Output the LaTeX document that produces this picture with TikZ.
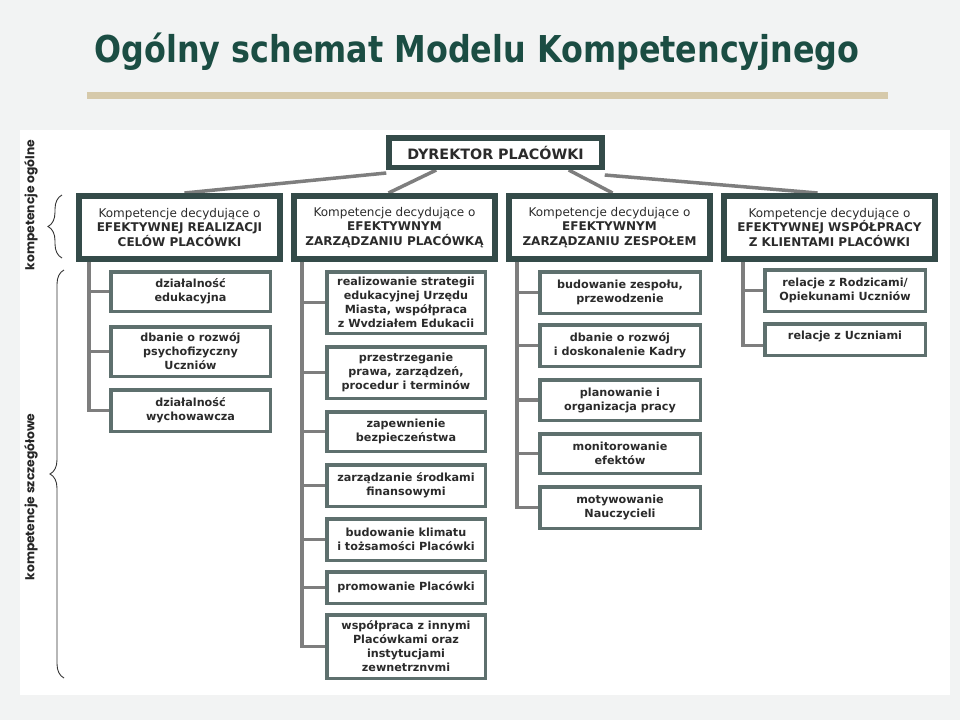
\documentclass[tikz,border=0pt]{standalone}
\usepackage{fontspec}
\setmainfont{DejaVu Sans}
\newfontfamily\titlefont{DejaVu Sans}[FakeStretch=0.86]
\newfontfamily\labfont{Poppins}
\usetikzlibrary{decorations.pathreplacing,backgrounds}
\definecolor{bgc}{HTML}{F2F3F3}
\definecolor{titlec}{HTML}{1B4D43}
\definecolor{barc}{HTML}{D6C9AA}
\definecolor{boxdark}{HTML}{344B49}
\definecolor{boxmid}{HTML}{5E706E}
\definecolor{connc}{HTML}{7E7E7E}
\definecolor{txtc}{HTML}{2B2B2B}
\tikzset{
  lvtwo/.style={draw=boxdark, line width=6pt, fill=white, inner sep=0pt, align=center,
    minimum height=63pt, text=txtc, font=\fontsize{12}{14.5}\selectfont},
  dyrbox/.style={draw=boxdark, line width=5.5pt, fill=white, inner sep=0pt,
    minimum width=213pt, minimum height=29.5pt, text=txtc, font=\bfseries\fontsize{14.3}{16}\selectfont},
  subbox/.style={draw=boxmid, line width=3.5pt, fill=white, inner sep=0pt, align=center,
    text=txtc, font=\bfseries\fontsize{11.2}{14}\selectfont},
  conn/.style={draw=connc, line width=3.5pt},
  bracec/.style={draw=black!80, line width=0.9pt, decorate, decoration={brace, amplitude=14pt}},
  sidelab/.style={rotate=90, text=black!85, font=\labfont\bfseries\fontsize{12.3}{14}\selectfont}
}
\begin{document}
\begin{tikzpicture}[x=1pt,y=-1pt]
\useasboundingbox (0,0) rectangle (960,720);
\begin{scope}[on background layer]
\fill[bgc] (0,0) rectangle (960,720);
\fill[white] (20,130) rectangle (950,695);
\end{scope}
\node[text=titlec, font=\titlefont\bfseries\fontsize{37}{44}\selectfont] (title) at (477,52) {Ogólny schemat Modelu Kompetencyjnego};
\fill[barc] (87,92) rectangle (888,99);

% side labels and braces
\node[sidelab] (lab1) at (31,205) {kompetencje ogólne};
\node[sidelab] (lab2) at (31,497) {kompetencje szczegółowe};
\coordinate (b1a) at (62,258);
\coordinate (b1b) at (62,195);
\coordinate (b2a) at (64,678);
\coordinate (b2b) at (64,270);
\draw[bracec] (b1a) -- (b1b);
\draw[bracec] (b2a) -- (b2b);

% top
\node[dyrbox] (dyr) at (495.5,152.5) {DYREKTOR PLACÓWKI};

\node[lvtwo, minimum width=201pt] (k1) at (179.5,227.5) {Kompetencje decydujące o\\\textbf{EFEKTYWNEJ REALIZACJI}\\\textbf{CELÓW PLACÓWKI}};
\node[lvtwo, minimum width=201pt] (k2) at (394.5,227.5) {Kompetencje decydujące o\\\textbf{EFEKTYWNYM}\\\textbf{ZARZĄDZANIU PLACÓWKĄ}};
\node[lvtwo, minimum width=201pt] (k3) at (609.5,227.5) {Kompetencje decydujące o\\\textbf{EFEKTYWNYM}\\\textbf{ZARZĄDZANIU ZESPOŁEM}};
\node[lvtwo, minimum width=211pt] (k4) at (829.5,227.5) {Kompetencje decydujące o\\\textbf{EFEKTYWNEJ WSPÓŁPRACY}\\\textbf{Z KLIENTAMI PLACÓWKI}};

% column 1
\node[subbox, minimum width=159.5pt, minimum height=39.5pt] (a1) at (190.5,291.5) {działalność\\edukacyjna};
\node[subbox, minimum width=159.5pt, minimum height=49.5pt] (a2) at (190.5,351.5) {dbanie o rozwój\\psychofizyczny\\Uczniów};
\node[subbox, minimum width=159.5pt, minimum height=41.5pt] (a3) at (190.5,410.5) {działalność\\wychowawcza};

% column 2
\node[subbox, minimum width=158.5pt, minimum height=61.5pt] (c1) at (406,302.5) {realizowanie strategii\\edukacyjnej Urzędu\\Miasta, współpraca\\z Wvdziałem Edukacii};
\node[subbox, minimum width=158.5pt, minimum height=51.5pt] (c2) at (406,372.5) {przestrzeganie\\prawa, zarządzeń,\\procedur i terminów};
\node[subbox, minimum width=158.5pt, minimum height=39.5pt] (c3) at (406,431.5) {zapewnienie\\bezpieczeństwa};
\node[subbox, minimum width=158.5pt, minimum height=41.5pt] (c4) at (406,485.5) {zarządzanie środkami\\finansowymi};
\node[subbox, minimum width=158.5pt, minimum height=41.5pt] (c5) at (406,539.5) {budowanie klimatu\\i tożsamości Placówki};
\node[subbox, minimum width=158.5pt, minimum height=31.5pt] (c6) at (406,587.5) {promowanie Placówki};
\node[subbox, minimum width=158.5pt, minimum height=63.5pt] (c7) at (406,646.5) {współpraca z innymi\\Placówkami oraz\\instytucjami\\zewnetrznvmi};

% column 3
\node[subbox, minimum width=160.5pt, minimum height=41.5pt] (e1) at (620,292.5) {budowanie zespołu,\\przewodzenie};
\node[subbox, minimum width=160.5pt, minimum height=41.5pt] (e2) at (620,345.5) {dbanie o rozwój\\i doskonalenie Kadry};
\node[subbox, minimum width=160.5pt, minimum height=40.5pt] (e3) at (620,400) {planowanie i\\organizacja pracy};
\node[subbox, minimum width=160.5pt, minimum height=39.5pt] (e4) at (620,453.5) {monitorowanie\\efektów};
\node[subbox, minimum width=160.5pt, minimum height=41.5pt] (e5) at (620,507.5) {motywowanie\\Nauczycieli};

% column 4
\node[subbox, minimum width=160.5pt, minimum height=41.5pt] (g1) at (845,290.5) {relacje z Rodzicami/\\Opiekunami Uczniów};
\node[subbox, minimum width=160.5pt, minimum height=31.5pt, text depth=8pt] (g2) at (845,339.5) {relacje z Uczniami};

% trunk starts
\coordinate (t1) at (89,262);
\coordinate (t2) at (302,262);
\coordinate (t3) at (517,262);
\coordinate (t4) at (743,262);

\begin{scope}[on background layer]
\draw[conn] ([yshift=-3pt]dyr.south west) -- ([xshift=5pt]k1.north);
\draw[conn] ([xshift=50pt]dyr.south west) -- ([xshift=-6pt]k2.north);
\draw[conn] ([xshift=-36pt]dyr.south east) -- ([xshift=3pt]k3.north);
\draw[conn] ([yshift=-5pt]dyr.south east) -- ([xshift=-12pt]k4.north);
\foreach \n in {a1,a2,a3} \draw[conn] (t1) |- (\n.west);
\foreach \n in {c1,c2,c3,c4,c5,c6,c7} \draw[conn] (t2) |- (\n.west);
\foreach \n in {e1,e2,e3,e4,e5} \draw[conn] (t3) |- (\n.west);
\draw[conn] (t4) |- (g1.west);
\draw[conn] (t4) |- ([yshift=-6pt]g2.west);
\end{scope}
\end{tikzpicture}
\end{document}
